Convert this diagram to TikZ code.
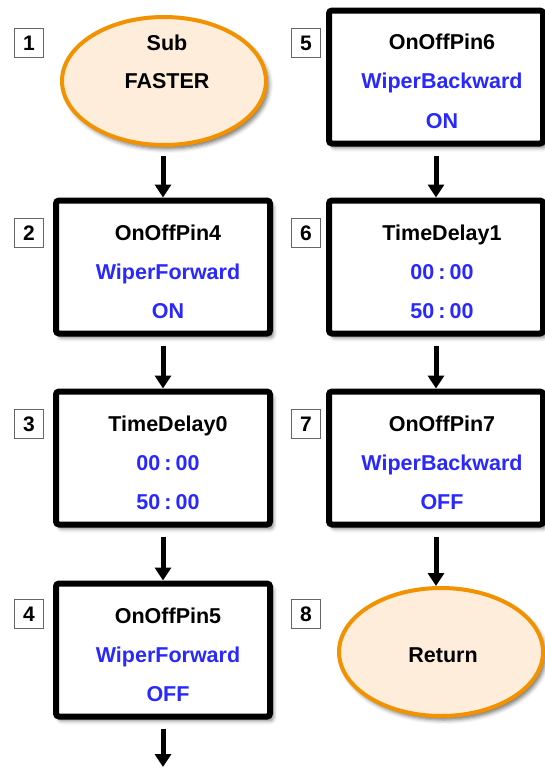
\documentclass[tikz,border=0pt]{standalone}
\usepackage{fontspec}
\setmainfont{Liberation Sans}
\usetikzlibrary{arrows.meta,shapes.geometric,shadows.blur}
\definecolor{stepblue}{RGB}{40,40,255}
\definecolor{capfill}{RGB}{253,237,218}
\definecolor{capline}{RGB}{243,146,0}
\newcommand{\tsep}{\hspace{0.19em}:\hspace{0.19em}}
\begin{document}
\begin{tikzpicture}[x=1pt,y=-1pt,
  softshadow/.style={blur shadow={shadow xshift=3pt,shadow yshift=-4pt,shadow blur radius=4pt,shadow opacity=55}},
  stepbox/.style={draw=black,line width=6pt,rounded corners=3pt,fill=white,
    minimum width=214pt,minimum height=133pt,inner sep=0pt,softshadow},
  terminal/.style={ellipse,draw=capline,line width=4pt,fill=capfill,
    minimum width=204pt,minimum height=128pt,inner sep=0pt,softshadow},
  title/.style={anchor=base,inner sep=0pt,text=black,font=\bfseries\fontsize{21.5}{24}\selectfont},
  value/.style={anchor=base,inner sep=0pt,text=stepblue,font=\bfseries\fontsize{21.5}{24}\selectfont},
  numtag/.style={draw=black!60,line width=1.2pt,fill=white,minimum width=29pt,minimum height=29pt,
    inner sep=0pt,font=\bfseries\fontsize{21}{22}\selectfont},
  flow/.style={line width=5pt,-{Triangle[width=16pt,length=13pt]},shorten <=9pt}]
\useasboundingbox (0,0) rectangle (544,769);

% left column
\node[terminal] (e1) at (164,81) {};
\node[title] (e1a) at ([xshift=3pt,yshift=31pt]e1.center) {Sub};
\node[title] (e1b) at ([xshift=3pt,yshift=-7pt]e1.center) {FASTER};

\node[stepbox] (b2) at (163,267) {};
\node[title] (b2a) at ([xshift=5pt,yshift=27pt]b2.center) {OnOffPin4};
\node[value] (b2b) at ([xshift=5pt,yshift=-12pt]b2.center) {WiperForward};
\node[value] (b2c) at ([xshift=5pt,yshift=-51pt]b2.center) {ON};

\node[stepbox] (b3) at (163,458) {};
\node[title] (b3a) at ([xshift=5pt,yshift=27pt]b3.center) {TimeDelay0};
\node[value] (b3b) at ([xshift=5pt,yshift=-12pt]b3.center) {00\tsep00};
\node[value] (b3c) at ([xshift=5pt,yshift=-51pt]b3.center) {50\tsep00};

\node[stepbox] (b4) at (163,650) {};
\node[title] (b4a) at ([xshift=5pt,yshift=27pt]b4.center) {OnOffPin5};
\node[value] (b4b) at ([xshift=5pt,yshift=-12pt]b4.center) {WiperForward};
\node[value] (b4c) at ([xshift=5pt,yshift=-51pt]b4.center) {OFF};

\coordinate (out) at (163,767);

% right column
\node[stepbox] (b5) at (436,77) {};
\node[title] (b5a) at ([xshift=6pt,yshift=28pt]b5.center) {OnOffPin6};
\node[value] (b5b) at ([xshift=6pt,yshift=-11pt]b5.center) {WiperBackward};
\node[value] (b5c) at ([xshift=6pt,yshift=-51pt]b5.center) {ON};

\node[stepbox] (b6) at (436,267) {};
\node[title] (b6a) at ([xshift=6pt,yshift=27pt]b6.center) {TimeDelay1};
\node[value] (b6b) at ([xshift=6pt,yshift=-12pt]b6.center) {00\tsep00};
\node[value] (b6c) at ([xshift=6pt,yshift=-51pt]b6.center) {50\tsep00};

\node[stepbox] (b7) at (436,458) {};
\node[title] (b7a) at ([xshift=6pt,yshift=27pt]b7.center) {OnOffPin7};
\node[value] (b7b) at ([xshift=6pt,yshift=-12pt]b7.center) {WiperBackward};
\node[value] (b7c) at ([xshift=6pt,yshift=-51pt]b7.center) {OFF};

\node[terminal] (e8) at (441,652) {};
\node[title] (e8a) at ([xshift=2pt,yshift=-10pt]e8.center) {Return};

% step numbers
\node[numtag] (n1) at (29,43) {1};
\node[numtag] (n2) at (29,233) {2};
\node[numtag] (n3) at (29,424) {3};
\node[numtag] (n4) at (29,614) {4};
\node[numtag] (n5) at (306,43) {5};
\node[numtag] (n6) at (306,233) {6};
\node[numtag] (n7) at (306,424) {7};
\node[numtag] (n8) at (306,614) {8};

% flow arrows
\draw[flow] (e1.south -| b2) -- (b2);
\draw[flow] (b2) -- (b3);
\draw[flow] (b3) -- (b4);
\draw[flow] (b4) -- (out);
\draw[flow] (b5) -- (b6);
\draw[flow] (b6) -- (b7);
\draw[flow] (b7.south) -- (b7.south |- e8.north);
\end{tikzpicture}
\end{document}
